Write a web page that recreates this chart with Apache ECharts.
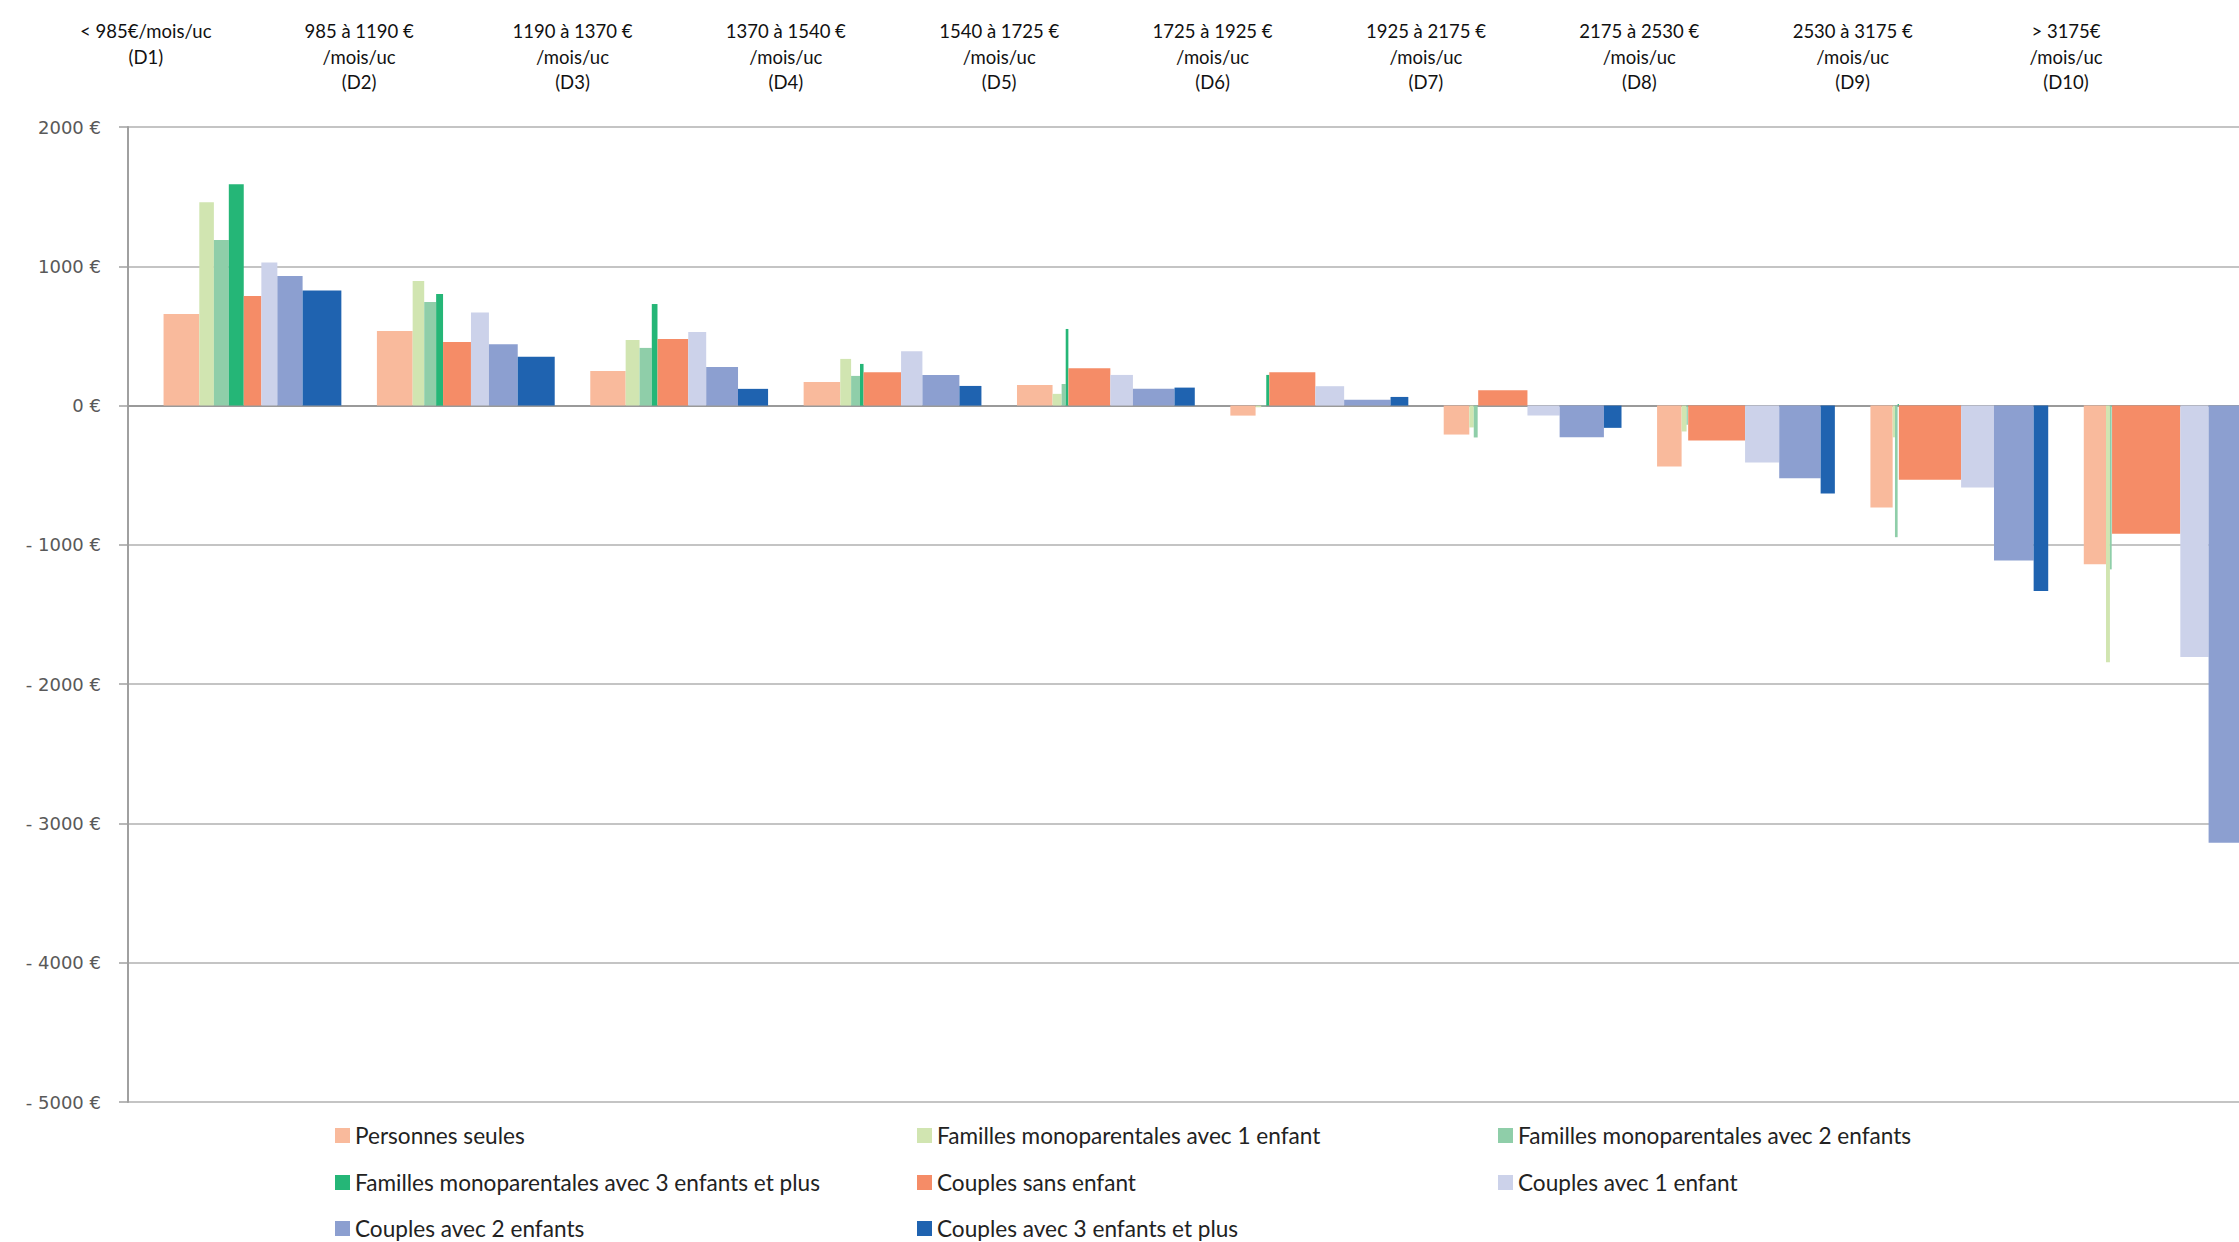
<!DOCTYPE html>
<html><head><meta charset="utf-8">
<script src="https://cdn.jsdelivr.net/npm/echarts@6/dist/echarts.min.js"></script>
<style>html,body{margin:0;padding:0;background:#fff}#c{width:100vw;height:100vh}</style>
</head><body><div id="c"></div>
<script>
// ---- data ----
const decileLabels = [
  '< 985€/mois/uc\n(D1)',
  '985 à 1190 €\n/mois/uc\n(D2)',
  '1190 à 1370 €\n/mois/uc\n(D3)',
  '1370 à 1540 €\n/mois/uc\n(D4)',
  '1540 à 1725 €\n/mois/uc\n(D5)',
  '1725 à 1925 €\n/mois/uc\n(D6)',
  '1925 à 2175 €\n/mois/uc\n(D7)',
  '2175 à 2530 €\n/mois/uc\n(D8)',
  '2530 à 3175 €\n/mois/uc\n(D9)',
  '> 3175€\n/mois/uc\n(D10)'
];
const seriesNames = [
  'Personnes seules',
  'Familles monoparentales avec 1 enfant',
  'Familles monoparentales avec 2 enfants',
  'Familles monoparentales avec 3 enfants et plus',
  'Couples sans enfant',
  'Couples avec 1 enfant',
  'Couples avec 2 enfants',
  'Couples avec 3 enfants et plus'
];
const yTicks = [-5000, -4000, -3000, -2000, -1000, 0, 1000, 2000];

// values (€ / month / uc) per decile D1..D10
const valPersonnesSeules = [657, 535, 249, 170, 148, -72, -208, -437, -731, -1140];
const valFamMono1 = [1460, 894, 471, 335, 84, -12, -157, -186, -228, -1842];
const valFamMono2 = [1188, 743, 414, 213, 155, -5, -229, -138, -945, -1176];
const valFamMono3 = [1589, 801, 729, 299, 550, 220, 0, 0, 12, 0];
const valCouplesSans = [786, 457, 478, 239, 268, 239, 110, -251, -533, -920];
const valCouples1 = [1028, 669, 528, 390, 220, 139, -72, -409, -589, -1806];
const valCouples2 = [930, 440, 277, 220, 120, 41, -227, -521, -1112, -3139];
const valCouples3 = [827, 351, 120, 141, 129, 62, -160, -631, -1332, null];

// share of each household type within each decile (%), gives bar widths
const shPersonnesSeules = [20.1, 20.1, 19.9, 20.6, 20.0, 14.2, 14.4, 13.8, 12.5, 12.5];
const shFamMono1 = [8.2, 6.5, 7.8, 6.1, 5.1, 3.2, 2.5, 2.8, 1.3, 2.2];
const shFamMono2 = [8.4, 6.7, 6.9, 5.0, 2.3, 2.8, 2.2, 0.7, 1.5, 1.0];
const shFamMono3 = [8.4, 3.9, 3.2, 2.0, 1.5, 1.7, 0.3, 0.2, 0.7, 0.2];
const shCouplesSans = [9.9, 15.7, 17.3, 21.1, 23.6, 25.9, 27.7, 32.0, 35.0, 38.4];
const shCouples1 = [9.0, 10.1, 10.1, 12.0, 12.7, 16.2, 18.1, 19.2, 18.5, 15.9];
const shCouples2 = [14.2, 16.2, 17.9, 20.8, 23.4, 26.1, 24.9, 23.3, 22.3, 21.4];
const shCouples3 = [21.8, 20.8, 16.9, 12.4, 11.4, 10.0, 9.9, 8.0, 8.2, 8.4];

// ---- styling ----
const colors = ['#f9ba9c', '#d1e5b1', '#8fcea9', '#25b677', '#f58c67', '#ccd2ea', '#8c9fd0', '#1f63b0'];
const values = [valPersonnesSeules, valFamMono1, valFamMono2, valFamMono3, valCouplesSans, valCouples1, valCouples2, valCouples3];
const shares = [shPersonnesSeules, shFamMono1, shFamMono2, shFamMono3, shCouplesSans, shCouples1, shCouples2, shCouples3];
const GAP = 20, PITCH = 100 + GAP;
const X_MIN = -GAP, X_MAX = 1167.3;

const chart = echarts.init(document.getElementById('c'), null, {renderer: 'svg'});

function renderItem(params, api) {
  const v = api.value(2);
  if (v === null || isNaN(v)) return null;
  const a = api.coord([api.value(0), 0]);
  const b = api.coord([api.value(1), v]);
  return {
    type: 'rect',
    shape: {x: a[0], y: Math.min(a[1], b[1]), width: b[0] - a[0], height: Math.abs(b[1] - a[1])},
    style: api.style()
  };
}

const series = seriesNames.map((name, s) => ({
  type: 'custom',
  name,
  clip: true,
  xAxisIndex: 0,
  itemStyle: {color: colors[s]},
  renderItem,
  encode: {x: [0, 1], y: 2},
  data: decileLabels.map((_, d) => {
    let start = d * PITCH;
    for (let k = 0; k < s; k++) start += shares[k][d];
    return [start, start + shares[s][d], values[s][d]];
  })
}));

// legend: 3 columns, filled row by row
const legendCols = [335, 917, 1498];
const legendRowCenters = [1135, 1182, 1228];
const legendFont = {fontFamily: 'Lato, "Open Sans", sans-serif', fontSize: 22.6, color: '#222', lineHeight: 22};
const legends = seriesNames.map((name, i) => ({
  left: legendCols[i % 3],
  top: legendRowCenters[Math.floor(i / 3)] - 11,
  padding: 0,
  itemWidth: 15, itemHeight: 15, icon: 'rect',
  textStyle: legendFont,
  data: [name]
}));

chart.setOption({
  animation: false,
  backgroundColor: '#fff',
  grid: {left: 128, right: 0, top: 127, bottom: 140, containLabel: false},
  xAxis: [
    {
      type: 'value', min: X_MIN, max: X_MAX,
      axisLine: {show: true, onZero: true, lineStyle: {color: '#9a9a9a', width: 2}},
      axisTick: {show: false}, axisLabel: {show: false}, splitLine: {show: false}
    },
    {
      type: 'value', position: 'top', min: X_MIN, max: X_MAX,
      axisLine: {show: false}, axisTick: {show: false}, splitLine: {show: false},
      axisLabel: {
        show: true,
        customValues: decileLabels.map((_, d) => d * PITCH - GAP / 2),
        formatter: v => decileLabels[Math.round((v + GAP / 2) / PITCH)],
        verticalAlign: 'top', margin: 109,
        fontFamily: 'Lato, "Open Sans", sans-serif', fontSize: 18.5, lineHeight: 25.7, color: '#111', align: 'center'
      }
    }
  ],
  yAxis: {
    type: 'value', min: yTicks[0], max: yTicks[yTicks.length - 1], interval: 1000,
    axisLine: {show: true, onZero: false, lineStyle: {color: '#a0a0a0', width: 2}},
    axisTick: {show: true, inside: false, length: 9, lineStyle: {color: '#a0a0a0', width: 1.5}},
    splitLine: {show: true, lineStyle: {color: '#b0b0b0', width: 1.5}},
    axisLabel: {
      margin: 27, color: '#595959', fontFamily: '"DejaVu Sans", Verdana, sans-serif', fontSize: 18,
      formatter: v => (v < 0 ? '- ' + (-v) : String(v)) + ' €'
    }
  },
  legend: legends,
  series
});
</script></body></html>
